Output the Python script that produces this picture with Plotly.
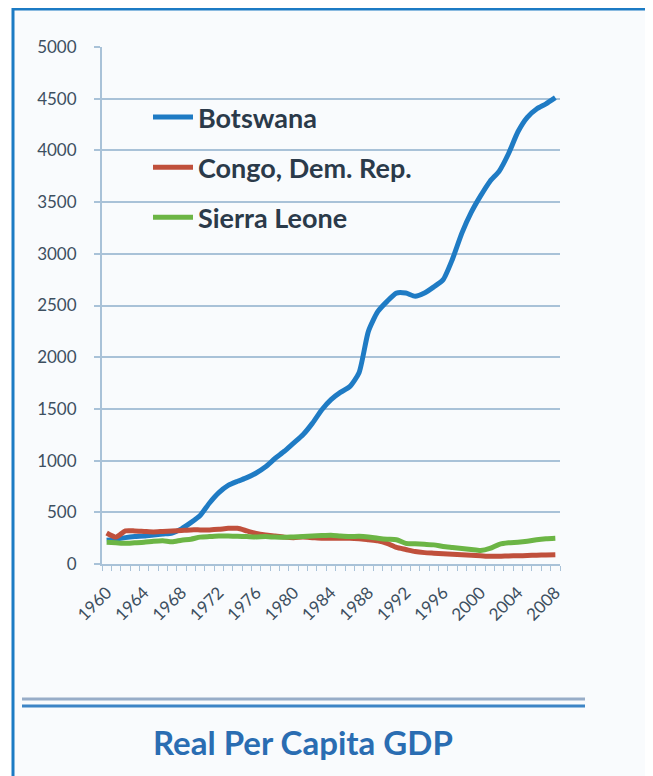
"""
Real per capita GDP — Botswana vs Congo vs Sierra Leone, 1960-2008.
"""
import plotly.graph_objects as go

# ── Data ──────────────────────────────────────────────────────────────────────
YEARS = list(range(1960, 2009))

BOTSWANA = [
    230, 240, 255, 265, 270, 280, 290, 300, 340, 400,
    470, 590, 690, 760, 800, 835, 880, 940, 1020, 1090,
    1170, 1250, 1360, 1490, 1590, 1660, 1715, 1850, 2250, 2440,
    2540, 2620, 2620, 2590, 2620, 2680, 2750, 2950, 3200, 3400,
    3560, 3700, 3800, 3970, 4180, 4320, 4400, 4450, 4510,
]
CONGO = [
    300, 260, 320, 320, 315, 310, 315, 320, 325, 330,
    330, 330, 335, 345, 345, 320, 295, 280, 270, 260,
    255, 260, 255, 250, 250, 250, 250, 245, 235, 225,
    200, 160, 140, 120, 110, 105, 100, 95, 90, 85,
    80, 75, 75, 78, 80, 82, 85, 88, 90,
]
SIERRA_LEONE = [
    210, 205, 200, 205, 210, 220, 225, 215, 230, 240,
    260, 265, 270, 270, 268, 265, 262, 265, 260, 258,
    262, 265, 270, 275, 278, 270, 265, 268, 262, 250,
    240, 235, 200, 195, 190, 185, 170, 160, 150, 140,
    130, 150, 190, 205, 210, 220, 235, 245, 250,
]

SERIES = ["Botswana", "Congo, Dem. Rep.", "Sierra Leone"]
Y_TICKS = [0, 500, 1000, 1500, 2000, 2500, 3000, 3500, 4000, 4500, 5000]
X_TICK_YEARS = list(range(1960, 2009, 4))

COLORS = ["#1f7bc4", "#c0503c", "#6cb545"]
GRID = "#a9c2d8"
TICK_TXT = "#3d4f60"

# ── Page geometry (page pixels; the html body adds an 8px margin) ────────────
BODY = 8
W, H = 653 - BODY, 776 - BODY
PL, PR, PT, PB = 102, 560, 47, 564   # plot area edges on the page


def px(x, y):
    """Page pixel position -> paper coordinates."""
    return (x - PL) / (PR - PL), (PB - y) / (PB - PT)


fig = go.Figure()

for name, vals, col in zip(SERIES, [BOTSWANA, CONGO, SIERRA_LEONE], COLORS):
    fig.add_trace(
        go.Scatter(
            x=YEARS,
            y=vals,
            mode="lines",
            name=name,
            legendgroup=name,
            line=dict(color=col, width=5, shape="spline", smoothing=0.6),
        )
    )

# ── Frame, rule lines, title ──────────────────────────────────────────────────
x0, y0 = px(13, 9)
x1, y1 = px(650, 800)
shapes = [
    dict(type="rect", xref="paper", yref="paper", x0=x0, y0=y1, x1=x1, y1=y0,
         line=dict(color="#1c7bc4", width=3), fillcolor="#f9fbfd", layer="below"),
]
for yy, col in [(699, "#98adc8"), (706, "#3d85c6")]:
    a, b = px(22, yy)
    c, _ = px(585, yy)
    shapes.append(dict(type="line", xref="paper", yref="paper", x0=a, y0=b, x1=c, y1=b,
                       line=dict(color=col, width=3)))

tx, ty = px(303, 742)
leg_x, leg_y = px(148, 93)

fig.update_layout(
    width=W,
    height=H,
    margin=dict(l=PL - BODY, r=653 - PR, t=PT - BODY, b=776 - PB, pad=0),
    paper_bgcolor="white",
    plot_bgcolor="rgba(0,0,0,0)",
    font=dict(family="Lato, sans-serif", color=TICK_TXT),
    shapes=shapes,
    annotations=[
        dict(text="<b>Real Per Capita GDP</b>", xref="paper", yref="paper",
             x=tx, y=ty, showarrow=False, xanchor="center", yanchor="middle",
             font=dict(size=33, color="#2a6db2", family="Lato, sans-serif")),
    ],
    xaxis=dict(
        range=[1959.5, 2008.5],
        tickmode="array",
        tickvals=X_TICK_YEARS,
        ticktext=[str(y) for y in X_TICK_YEARS],
        tickangle=-45,
        ticks="",
        ticklabelstandoff=10,
        showgrid=False,
        showline=True,
        linecolor=GRID,
        linewidth=2,
        zeroline=False,
        tickfont=dict(size=17, color=TICK_TXT),
        minor=dict(tickmode="linear", tick0=1959.5, dtick=1, ticks="outside",
                   ticklen=5, tickcolor=GRID, tickwidth=1, showgrid=False),
    ),
    yaxis=dict(
        range=[0, 5000],
        tickmode="array",
        tickvals=Y_TICKS,
        ticks="outside",
        ticklen=6,
        tickcolor=GRID,
        tickwidth=2,
        ticklabelstandoff=14,
        showgrid=True,
        gridcolor=GRID,
        gridwidth=2,
        showline=True,
        linecolor=GRID,
        linewidth=2,
        zeroline=False,
        tickfont=dict(size=17, color=TICK_TXT),
    ),
    legend=dict(
        x=leg_x,
        y=leg_y,
        xanchor="left",
        yanchor="top",
        bgcolor="rgba(0,0,0,0)",
        font=dict(size=27, color="#2b3a4a", family="Lato, sans-serif", weight="bold"),
        traceorder="grouped",
        tracegroupgap=12,
        itemwidth=40,
    ),
)

fig.write_html("out.html")
